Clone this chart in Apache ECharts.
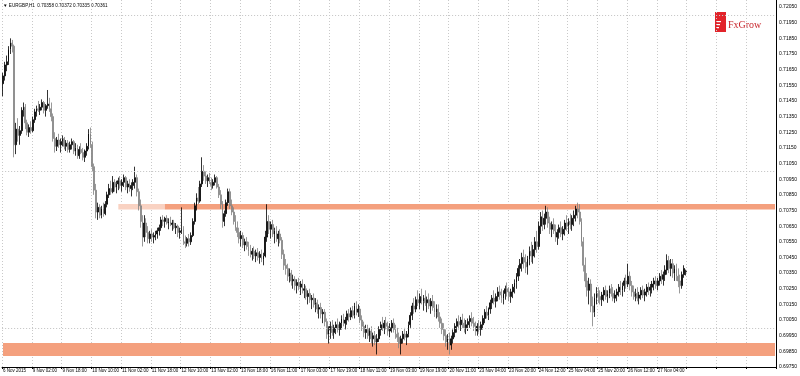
<!DOCTYPE html>
<html><head><meta charset="utf-8">
<script src="https://cdn.jsdelivr.net/npm/echarts@6/dist/echarts.min.js"></script>
<style>html,body{margin:0;padding:0;background:#fff}#c{width:800px;height:376px}</style>
</head><body><div id="c"></div>
<script>
const symbolTitle = 'EURGBP,H1';
const lastOHLC = ['0.70358', '0.70372', '0.70335', '0.70361'];
const lastPrice = 0.70361;
const tickLabels = ['6 Nov 2015', '9 Nov 02:00', '9 Nov 18:00', '10 Nov 10:00', '11 Nov 02:00', '11 Nov 18:00',
  '12 Nov 10:00', '13 Nov 02:00', '13 Nov 18:00', '16 Nov 11:00', '17 Nov 03:00', '17 Nov 19:00',
  '18 Nov 11:00', '19 Nov 03:00', '19 Nov 19:00', '20 Nov 11:00', '23 Nov 04:00', '23 Nov 20:00',
  '24 Nov 12:00', '25 Nov 04:00', '25 Nov 20:00', '26 Nov 12:00', '27 Nov 04:00'];
const slotCount = 416;
const yMin = 0.6975, yMax = 0.72095, yStep = 0.0005;
const gridPrices = [0.71950, 0.71650, 0.71350, 0.71050, 0.70750, 0.70450, 0.70150, 0.69850];
const resistanceZone = [0.70756, 0.70792];
const resistanceFadeFrom = 62, resistanceFrom = 87;
const supportZone = [0.69820, 0.69903];
// hourly bars: [open, high, low, close] in units of 0.0001
const bars = [
[7156,7163,7148,7161],[7161,7170,7158,7168],[7168,7174,7164,7170],[7170,7180,7168,7178],[7178,7185,7175,7182],
[7182,7184,7176,7180],[7180,7181,7109,7117],[7117,7131,7111,7127],[7127,7134,7119,7123],[7123,7129,7117,7126],
[7126,7141,7124,7139],[7139,7144,7135,7141],[7141,7143,7127,7131],[7131,7133,7123,7125],[7125,7130,7122,7128],
[7128,7132,7124,7126],[7126,7135,7125,7133],[7133,7140,7131,7138],[7138,7142,7135,7140],[7140,7145,7138,7139],
[7139,7143,7136,7141],[7141,7146,7139,7144],[7144,7145,7137,7139],[7139,7143,7135,7142],[7142,7152,7140,7143],
[7143,7147,7138,7140],[7140,7144,7132,7135],[7135,7137,7119,7121],[7121,7125,7112,7116],[7116,7122,7113,7120],
[7120,7124,7115,7117],[7117,7121,7112,7119],[7119,7123,7116,7121],[7121,7122,7114,7116],[7116,7120,7113,7118],
[7118,7120,7112,7114],[7114,7119,7112,7117],[7117,7121,7114,7119],[7119,7120,7111,7113],[7113,7118,7110,7115],
[7115,7117,7108,7110],[7110,7116,7108,7114],[7114,7118,7111,7112],[7112,7115,7107,7109],[7109,7114,7106,7113],
[7113,7118,7110,7116],[7116,7127,7114,7124],[7124,7128,7115,7117],[7117,7119,7100,7103],[7103,7105,7085,7088],
[7088,7092,7070,7074],[7074,7080,7069,7077],[7077,7079,7070,7072],[7072,7078,7070,7076],[7076,7080,7071,7073],
[7073,7081,7072,7079],[7079,7087,7077,7085],[7085,7092,7083,7089],[7089,7094,7085,7087],[7087,7097,7086,7093],
[7093,7095,7087,7090],[7090,7094,7086,7092],[7092,7096,7088,7094],[7094,7097,7089,7091],[7091,7095,7087,7093],
[7093,7098,7090,7096],[7096,7097,7088,7090],[7090,7094,7086,7092],[7092,7095,7087,7089],[7089,7093,7084,7091],
[7091,7095,7088,7093],[7093,7103,7089,7096],[7096,7098,7084,7087],[7087,7089,7075,7078],[7078,7082,7064,7068],
[7068,7072,7052,7058],[7058,7072,7055,7067],[7067,7070,7058,7061],[7061,7065,7054,7057],[7057,7062,7054,7060],
[7060,7063,7055,7058],[7058,7061,7054,7059],[7059,7062,7056,7060],[7060,7064,7057,7062],[7062,7066,7059,7064],
[7064,7071,7062,7069],[7069,7072,7065,7068],[7068,7071,7064,7070],[7070,7072,7066,7067],[7067,7070,7063,7068],
[7068,7071,7065,7066],[7066,7069,7062,7067],[7067,7069,7063,7064],[7064,7067,7060,7065],[7065,7066,7058,7061],
[7061,7064,7057,7062],[7062,7077,7060,7063],[7063,7065,7053,7055],[7055,7059,7051,7054],[7054,7058,7052,7057],
[7057,7060,7052,7055],[7055,7061,7053,7059],[7059,7070,7058,7068],[7068,7080,7066,7078],[7078,7086,7075,7083],
[7083,7090,7079,7081],[7081,7094,7080,7092],[7092,7109,7090,7100],[7100,7104,7094,7097],[7097,7100,7092,7094],
[7094,7098,7090,7096],[7096,7099,7092,7093],[7093,7096,7088,7091],[7091,7095,7089,7093],[7093,7098,7091,7096],
[7096,7097,7089,7090],[7090,7092,7083,7085],[7085,7088,7076,7079],[7079,7081,7064,7068],[7068,7075,7065,7073],
[7073,7082,7071,7080],[7080,7089,7078,7087],[7087,7089,7076,7078],[7078,7082,7072,7074],[7074,7077,7066,7068],
[7068,7072,7062,7064],[7064,7068,7058,7061],[7061,7064,7054,7057],[7057,7062,7052,7059],[7059,7061,7051,7053],
[7053,7057,7049,7055],[7055,7058,7050,7052],[7052,7055,7046,7049],[7049,7053,7045,7047],[7047,7051,7043,7049],
[7049,7052,7044,7046],[7046,7050,7042,7048],[7048,7051,7043,7045],[7045,7049,7041,7047],[7047,7050,7042,7044],
[7044,7048,7040,7046],[7046,7062,7045,7058],[7058,7079,7055,7068],[7068,7072,7060,7063],[7063,7068,7057,7066],
[7066,7069,7058,7060],[7060,7064,7054,7062],[7062,7065,7055,7057],[7057,7062,7052,7060],[7060,7063,7054,7056],
[7056,7058,7044,7047],[7047,7050,7037,7040],[7040,7044,7034,7038],[7038,7041,7030,7033],[7033,7038,7029,7035],
[7035,7037,7027,7030],[7030,7034,7025,7031],[7031,7033,7024,7027],[7027,7031,7022,7029],[7029,7032,7024,7026],
[7026,7030,7021,7028],[7028,7031,7022,7024],[7024,7028,7019,7025],[7025,7027,7018,7020],[7020,7024,7015,7022],
[7022,7025,7016,7018],[7018,7021,7012,7019],[7019,7022,7013,7015],[7015,7019,7010,7016],[7016,7018,7009,7012],
[7012,7015,7006,7013],[7013,7016,7006,7009],[7009,7012,7003,7010],[7010,7012,7001,7004],[7004,7006,6993,6996],
[6996,7001,6990,6999],[6999,7004,6993,7001],[7001,7005,6995,6997],[6997,7002,6993,7000],[7000,7004,6996,7002],
[7002,7006,6997,6999],[6999,7004,6995,7003],[7003,7008,6999,7006],[7006,7009,7001,7003],[7003,7007,6999,7005],
[7005,7011,7002,7009],[7009,7012,7004,7007],[7007,7013,7005,7011],[7011,7014,7006,7008],[7008,7016,7006,7014],
[7014,7017,7008,7010],[7010,7015,7007,7012],[7012,7014,7003,7005],[7005,7008,6998,7001],[7001,7004,6994,6997],
[6997,7002,6993,6999],[6999,7002,6993,6995],[6995,7000,6991,6998],[6998,7001,6990,6993],[6993,6997,6988,6995],
[6995,6998,6989,6991],[6991,6996,6983,6993],[6993,7001,6991,6999],[6999,7004,6995,7002],[7002,7007,6998,7000],
[7000,7005,6996,7003],[7003,7007,6999,7001],[7001,7004,6995,6998],[6998,7003,6994,7000],[7000,7005,6997,7003],
[7003,7006,6997,6999],[6999,7002,6993,6996],[6996,7000,6991,6994],[6994,6997,6987,6990],[6990,6995,6983,6993],
[6993,6998,6990,6996],[6996,7000,6992,6994],[6994,6998,6989,6996],[6996,7004,6994,7002],[7002,7010,7000,7008],
[7008,7016,7005,7014],[7014,7019,7009,7012],[7012,7020,7010,7018],[7018,7024,7014,7016],[7016,7022,7012,7020],
[7020,7025,7015,7017],[7017,7021,7011,7019],[7019,7024,7014,7016],[7016,7020,7010,7018],[7018,7022,7012,7014],
[7014,7019,7009,7017],[7017,7021,7011,7013],[7013,7017,7007,7010],[7010,7015,7006,7012],[7012,7015,7004,7007],
[7007,7010,7000,7003],[7003,7006,6996,6999],[6999,7003,6992,6995],[6995,6999,6988,6991],[6991,6996,6986,6993],
[6993,6997,6983,6989],[6989,6995,6986,6993],[6993,6999,6990,6997],[6997,7003,6994,7001],[7001,7006,6997,7004],
[7004,7008,6999,7002],[7002,7007,6998,7005],[7005,7009,7000,7003],[7003,7006,6997,7000],[7000,7005,6996,7002],
[7002,7006,6998,7004],[7004,7008,7000,7006],[7006,7010,7001,7003],[7003,7007,6998,7001],[7001,7004,6995,6998],
[6998,7003,6995,7001],[7001,7005,6997,6999],[6999,7004,6995,7002],[7002,7008,6999,7006],[7006,7012,7003,7010],
[7010,7014,7006,7008],[7008,7013,7005,7012],[7012,7018,7009,7016],[7016,7021,7012,7019],[7019,7024,7015,7017],
[7017,7022,7013,7020],[7020,7026,7017,7023],[7023,7027,7018,7021],[7021,7025,7016,7019],[7019,7024,7015,7022],
[7022,7027,7018,7025],[7025,7029,7020,7023],[7023,7026,7017,7020],[7020,7025,7016,7023],[7023,7028,7019,7026],
[7026,7031,7022,7029],[7029,7035,7025,7033],[7033,7040,7030,7038],[7038,7044,7033,7041],[7041,7048,7036,7045],
[7045,7050,7038,7042],[7042,7047,7035,7039],[7039,7046,7034,7044],[7044,7052,7040,7049],[7049,7055,7042,7046],
[7046,7053,7041,7050],[7050,7058,7045,7055],[7055,7062,7048,7052],[7052,7068,7050,7065],[7065,7074,7060,7071],
[7071,7075,7062,7066],[7066,7073,7063,7070],[7070,7078,7066,7074],[7074,7077,7064,7067],[7067,7071,7060,7063],
[7063,7068,7058,7066],[7066,7070,7060,7062],[7062,7066,7055,7058],[7058,7063,7053,7061],[7061,7066,7057,7064],
[7064,7068,7058,7060],[7060,7065,7056,7063],[7063,7069,7059,7067],[7067,7072,7062,7065],[7065,7070,7060,7068],
[7068,7073,7063,7066],[7066,7072,7062,7070],[7070,7075,7065,7072],[7072,7078,7068,7076],[7076,7080,7070,7074],
[7074,7079,7066,7068],[7068,7070,7052,7055],[7055,7058,7036,7040],[7040,7045,7026,7030],[7030,7035,7020,7024],
[7024,7032,7015,7028],[7028,7031,7010,7014],[7014,7020,7001,7010],[7010,7022,7007,7019],[7019,7026,7015,7022],
[7022,7026,7016,7020],[7020,7024,7015,7018],[7018,7023,7014,7021],[7021,7026,7017,7024],[7024,7027,7018,7020],
[7020,7024,7016,7022],[7022,7027,7019,7025],[7025,7028,7020,7022],[7022,7026,7017,7019],[7019,7024,7016,7021],
[7021,7025,7017,7023],[7023,7028,7020,7026],[7026,7030,7021,7024],[7024,7029,7020,7027],[7027,7032,7023,7030],
[7030,7034,7025,7028],[7028,7041,7026,7033],[7033,7036,7024,7027],[7027,7030,7020,7023],[7023,7027,7018,7020],
[7020,7025,7017,7022],[7022,7026,7017,7019],[7019,7023,7015,7021],[7021,7026,7018,7024],[7024,7027,7019,7021],
[7021,7025,7017,7023],[7023,7028,7020,7026],[7026,7029,7021,7024],[7024,7028,7020,7026],[7026,7030,7022,7028],
[7028,7032,7024,7030],[7030,7033,7025,7027],[7027,7032,7024,7030],[7030,7035,7027,7033],[7033,7037,7028,7031],
[7031,7036,7027,7034],[7034,7040,7030,7037],[7037,7047,7034,7043],[7043,7046,7035,7038],[7038,7044,7033,7041],
[7041,7044,7032,7035],[7035,7040,7030,7038],[7038,7041,7030,7033],[7033,7038,7026,7030],[7030,7034,7022,7027],
[7027,7036,7025,7034],[7034,7040,7032,7038],[7035.8,7037.2,7033.5,7036.1]
];

// hourly category slots (Mon 00:00 .. Fri 22:00), starting Fri 6 Nov 2015 09:00
const monthNames = ['Jan','Feb','Mar','Apr','May','Jun','Jul','Aug','Sep','Oct','Nov','Dec'];
const categories = [];
for (let t = Date.UTC(2015, 10, 6, 9); categories.length < slotCount; t += 3600000) {
  const d = new Date(t), dow = d.getUTCDay(), h = d.getUTCHours();
  if (dow === 6 || dow === 0 || (dow === 5 && h === 23)) continue;
  categories.push(d.getUTCDate() + ' ' + monthNames[d.getUTCMonth()] + ' ' + String(h).padStart(2, '0') + ':00');
}
const PIP = 0.0001;
const candleData = bars.map(b => [b[0] * PIP, b[3] * PIP, b[2] * PIP, b[1] * PIP]);

const chart = echarts.init(document.getElementById('c'), null, {renderer: 'canvas'});
const FONT = 'Liberation Sans';
const lastIdx = categories.length - 1;
chart.setOption({
  animation: false,
  backgroundColor: '#ffffff',
  grid: {left: 2, right: 23, top: 0, bottom: 9},
  xAxis: {
    type: 'category', data: categories, boundaryGap: true,
    axisLine: {show: true, lineStyle: {color: '#000', width: 1}},
    axisTick: {show: true, interval: 15, length: 2, lineStyle: {color: '#000'}},
    axisLabel: {
      interval: 15, fontSize: 4.5, color: '#000', fontFamily: FONT, margin: 1.5, align: 'left',
      formatter: (v, i) => tickLabels[Math.round(i / 16)] || ''
    },
    splitLine: {show: true, interval: 15, lineStyle: {color: '#c9c9c9', type: [1, 2], width: 1}}
  },
  yAxis: {
    type: 'value', position: 'right', min: yMin, max: yMax, interval: yStep, scale: true,
    axisLine: {show: true, lineStyle: {color: '#000', width: 1}},
    axisTick: {show: false},
    splitLine: {show: false},
    axisLabel: {
      fontSize: 5, color: '#000', fontFamily: FONT, margin: 3,
      formatter: v => (Math.round(v * 10000) % 10 === 5) ? v.toFixed(5) : ''
    }
  },
  graphic: [
    {type: 'text', left: 3, top: 3, style: {text: '\u25BC ' + symbolTitle + '  ' + lastOHLC.join(' '), fontSize: 4.6, fill: '#000', fontFamily: FONT}},
    {type: 'rect', shape: {x: 715, y: 12, width: 11, height: 20}, style: {fill: '#e2232a'}},
    {type: 'rect', shape: {x: 717, y: 21, width: 4, height: 1.2}, style: {fill: '#fff'}},
    {type: 'rect', shape: {x: 717, y: 24, width: 3, height: 1.2}, style: {fill: '#fff'}},
    {type: 'rect', shape: {x: 717, y: 27, width: 2, height: 1.2}, style: {fill: '#fff'}},
    {type: 'text', left: 728, top: 20, style: {text: 'FxGrow', fontSize: 10, fill: '#c8262c', fontFamily: 'Liberation Serif'}}
  ],
  series: [
    {
      type: 'line', data: [], z: 1, silent: true,
      markArea: {
        silent: true,
        itemStyle: {color: '#f4a07e'},
        data: [
          [{xAxis: categories[resistanceFadeFrom], yAxis: resistanceZone[1], itemStyle: {color: '#f9d2c2'}}, {xAxis: categories[resistanceFrom], yAxis: resistanceZone[0]}],
          [{xAxis: categories[resistanceFrom], yAxis: resistanceZone[1]}, {xAxis: categories[lastIdx], yAxis: resistanceZone[0]}],
          [{xAxis: categories[0], yAxis: supportZone[1]}, {xAxis: categories[lastIdx], yAxis: supportZone[0]}]
        ]
      },
      markLine: {
        silent: true, symbol: 'none', animation: false,
        label: {show: false},
        lineStyle: {color: '#c9c9c9', type: [1, 2], width: 1},
        data: gridPrices.map(p => ({yAxis: p})).concat([{
          yAxis: lastPrice, lineStyle: {opacity: 0},
          label: {show: true, position: 'end', formatter: lastPrice.toFixed(5), backgroundColor: '#000', color: '#fff',
            fontSize: 5, fontFamily: FONT, padding: [1, 2], distance: 1}
        }])
      }
    },
    {
      type: 'candlestick', data: candleData, z: 3, barWidth: '70%',
      itemStyle: {color: '#000', color0: '#a8a8a8', borderColor: '#000', borderColor0: '#808080', borderWidth: 0.8}
    }
  ]
});
</script></body></html>
